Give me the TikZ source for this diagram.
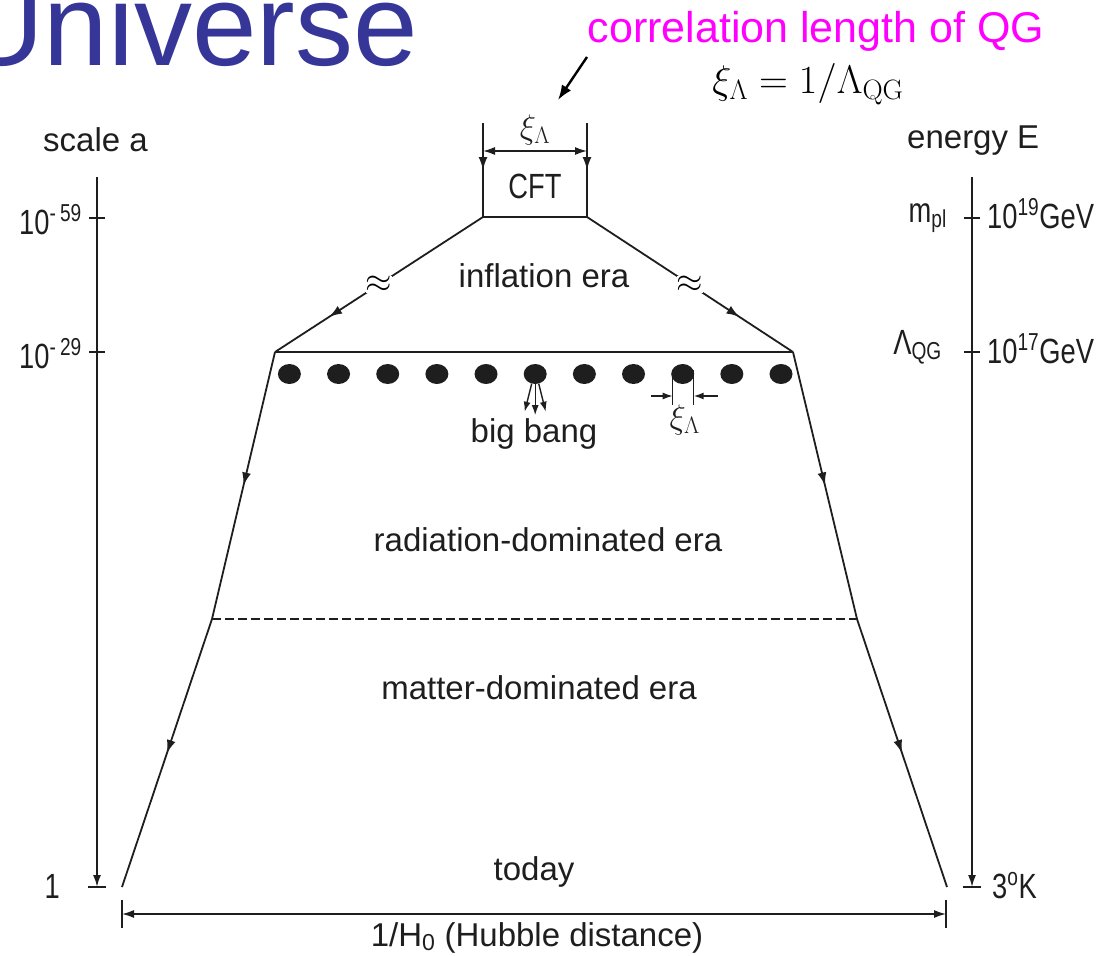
\documentclass[tikz,border=0pt]{standalone}
\usepackage{fix-cm}
\usepackage[no-math]{fontspec}
\setmainfont{Liberation Sans}
\newfontfamily\narrowfont[FakeStretch=0.78]{Liberation Sans}
\usepackage{tikz}
\usetikzlibrary{arrows.meta, calc, shapes.geometric, decorations.markings}

\definecolor{titleblue}{RGB}{54,54,152}
\definecolor{qgmagenta}{RGB}{255,0,255}
\definecolor{inkgray}{RGB}{30,30,30}

\tikzset{
  era/.style={font=\fontsize{33}{38}\selectfont, text=inkgray, inner sep=0pt},
  numlbl/.style={font=\narrowfont\fontsize{35}{40}\selectfont, text=inkgray, inner sep=0pt},
  xilbl/.style={font=\fontsize{34}{36}\selectfont, text=inkgray, inner sep=0pt},
  wall/.style={line width=1.8pt, draw=inkgray},
  thinwall/.style={line width=1.4pt, draw=inkgray},
  midarrow/.style={postaction={decorate}, decoration={markings,
      mark=at position #1 with {\arrow{Latex[length=13pt,width=9pt]}}}},
  slope/.style={postaction={decorate}, decoration={markings,
      mark=at position 0.5 with {\node[fill=white, inner sep=0pt, font=\fontsize{34}{34}\selectfont]{$\approx$};},
      mark=at position #1 with {\arrow{Latex[length=13pt,width=9pt]}}}},
  dimline/.style={line width=1.5pt, draw=inkgray, {Latex[length=12pt,width=8pt]}-{Latex[length=12pt,width=8pt]}},
  thinarrow/.style={thinwall, -{Latex[length=10pt,width=7pt]}},
  dot/.style={ellipse, fill=inkgray, minimum width=23pt, minimum height=20pt, inner sep=0pt},
}

\begin{document}
\begin{tikzpicture}[x=1pt, y=-1pt]
    \useasboundingbox (0,0) rectangle (1107,955);
    \clip (0,0) rectangle (1107,955);

    % title and note
    \node[anchor=base east, inner sep=0pt, text=titleblue, font=\fontsize{116}{120}\selectfont] (title) at (418,66) {Universe};
    \node[anchor=base, inner sep=0pt, text=qgmagenta, font=\fontsize{43}{50}\selectfont] (corr) at (816,43) {correlation length of QG};
    \node[anchor=base, inner sep=0pt, font=\fontsize{40}{48}\selectfont] (xiform) at (808,94) {$\xi_\Lambda = 1/\Lambda_{\mathrm{QG}}$};
    \coordinate (ptrA) at (587,57);
    \coordinate (ptrB) at (558,100);
    \draw[line width=2.4pt, -{Latex[length=15pt,width=11pt]}] (ptrA) -- (ptrB);

    % corners of the cone
    \coordinate (cftTL) at (483,123);
    \coordinate (cftTR) at (587,123);
    \coordinate (cftBL) at (483,217);
    \coordinate (cftBR) at (587,217);
    \coordinate (qgL) at (275,352);
    \coordinate (qgR) at (793,352);
    \coordinate (mrL) at (212,619);
    \coordinate (mrR) at (857,619);
    \coordinate (nowL) at (122,887);
    \coordinate (nowR) at (947,887);

    % CFT box
    \draw[wall, midarrow=0.5] (cftTL) -- (cftBL);
    \draw[wall, midarrow=0.5] (cftTR) -- (cftBR);
    \draw[wall] (cftBL) -- (cftBR);
    \draw[dimline] ([yshift=-28pt]cftTL) -- ([yshift=-28pt]cftTR);
    \node[xilbl] (xiTop) at (535,130) {$\xi_\Lambda$};
    \node[numlbl] (cft) at (535,186) {CFT};

    % inflation
    \draw[wall, slope=0.74] (cftBL) -- (qgL);
    \draw[wall, slope=0.74] (cftBR) -- (qgR);
    \draw[wall] (qgL) -- (qgR);
    \node[era, anchor=base] (infl) at (544,287) {inflation era};

    % big bang
    \foreach \k in {0,...,10}
        \node[dot] (d\k) at ({289.4+49.16*\k},374) {};
    \draw[thinarrow] (d5.250) -- ++(-7,28);
    \draw[thinarrow] (d5.south) -- ++(0,31);
    \draw[thinarrow] (d5.290) -- ++(7,28);
    \node[era, anchor=base] (bb) at (534,442) {big bang};
    \draw[thinwall] ($(d8)+(-10,-4)$) -- ++(0,35);
    \draw[thinwall] ($(d8)+(11,-4)$) -- ++(0,35);
    \draw[thinarrow] ($(d8)+(-32,22)$) -- ($(d8)+(-10,22)$);
    \draw[thinarrow] ($(d8)+(35,22)$) -- ($(d8)+(11,22)$);
    \node[xilbl] (xiDot) at ($(d8)+(2,46)$) {$\xi_\Lambda$};

    % radiation and matter
    \draw[wall, midarrow=0.5] (qgL) -- (mrL);
    \draw[wall, midarrow=0.5] (mrL) -- (nowL);
    \draw[wall, midarrow=0.5] (qgR) -- (mrR);
    \draw[wall, midarrow=0.5] (mrR) -- (nowR);
    \draw[wall, line width=1.4pt, dash pattern=on 9pt off 4pt] (mrL) -- (mrR);
    \node[era, anchor=base] (rad) at (548,551) {radiation-dominated era};
    \node[era, anchor=base] (mat) at (539,699) {matter-dominated era};
    \node[era, anchor=base] (today) at (534,880) {today};

    % Hubble distance
    \coordinate (hL) at (122,914);
    \coordinate (hR) at (946,914);
    \draw[wall] ([yshift=14pt]hL) -- ([yshift=-14pt]hL);
    \draw[wall] ([yshift=14pt]hR) -- ([yshift=-14pt]hR);
    \draw[dimline] (hL) -- (hR);
    \node[era, anchor=base] (hubble) at (537,946) {1/H\textsubscript{0} (Hubble distance)};

    % scale axis
    \coordinate (aTop) at (97,177);
    \coordinate (aBot) at (97,887);
    \coordinate (t59) at (97,218);
    \coordinate (t29) at (97,352);
    \draw[wall, -{Latex[length=12pt,width=8pt]}] (aTop) -- (aBot);
    \draw[wall] ([xshift=-9pt]aBot) -- ([xshift=9pt]aBot);
    \draw[wall] ([xshift=-8pt]t59) -- ([xshift=8pt]t59);
    \draw[wall] ([xshift=-8pt]t29) -- ([xshift=8pt]t29);
    \node[era, anchor=base west] (scaleA) at (43,151) {scale a};
    \node[numlbl, anchor=base east] (l59) at (82,234) {10\textsuperscript{-\,59}};
    \node[numlbl, anchor=base east] (l29) at (82,368) {10\textsuperscript{-\,29}};
    \node[numlbl, anchor=base east] (l1) at (60,898) {1};

    % energy axis
    \coordinate (eTop) at (972,177);
    \coordinate (eBot) at (972,887);
    \coordinate (t19) at (972,218);
    \coordinate (t17) at (972,352);
    \draw[wall, -{Latex[length=12pt,width=8pt]}] (eTop) -- (eBot);
    \draw[wall] ([xshift=-9pt]eBot) -- ([xshift=9pt]eBot);
    \draw[wall] ([xshift=-8pt]t19) -- ([xshift=8pt]t19);
    \draw[wall] ([xshift=-8pt]t17) -- ([xshift=8pt]t17);
    \node[era, anchor=base west] (energyE) at (907,148) {energy E};
    \node[numlbl, anchor=base east] (mpl) at (947,222) {m\textsubscript{pl}};
    \node[numlbl, anchor=base west] (e19) at (987,228) {10\textsuperscript{19}GeV};
    \node[numlbl, anchor=base east] (lqg) at (942,354) {Λ\textsubscript{QG}};
    \node[numlbl, anchor=base west] (e17) at (987,363) {10\textsuperscript{17}GeV};
    \node[numlbl, anchor=base west] (e3k) at (992,898) {3\textsuperscript{o}K};
\end{tikzpicture}
\end{document}
